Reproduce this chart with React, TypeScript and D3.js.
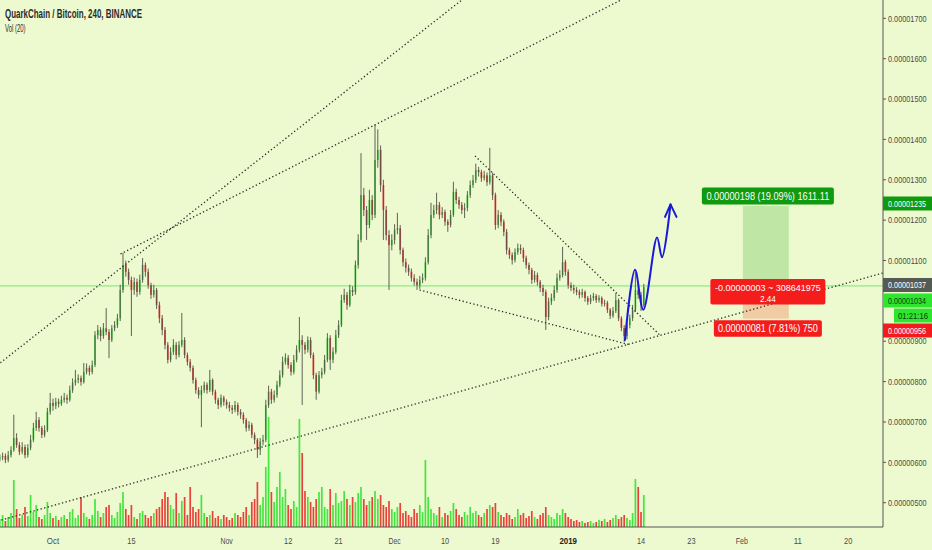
import React, { useLayoutEffect, useRef, useState } from "react";
import * as d3 from "d3";

const W = 932;
const H = 550;
const PLOT_RIGHT = 883;
const PLOT_BOTTOM = 527;
const DAY = 86400000;
const ORIGIN = Date.UTC(2018, 9, 1); // Oct 1 2018

// 12h candles starting Sep 21 2018 12:00 UTC
const candleStart = Date.UTC(2018, 8, 21, 12);
const candleStepHours = 12;
const firstOpen = 608;

// prices in satoshi (1e-8 BTC)
const closes = [
  612, 616, 606, 618, 631, 660, 643, 626, 638, 618, 636, 656, 685, 705, 685, 668, 680, 725, 747, 740,
  750, 745, 755, 760, 755, 779, 797, 804, 809, 799, 824, 834, 824, 841, 915, 928, 913, 932, 923, 903,
  932, 940, 957, 1027, 1089, 1072, 1052, 1027, 1047, 1022, 1052, 1089, 1072, 1039, 1015, 1027, 990, 957, 928, 891,
  854, 874, 891, 866, 891, 903, 866, 849, 834, 804, 779, 767, 779, 792, 779, 804, 775, 755, 742, 760,
  750, 742, 735, 730, 742, 725, 718, 705, 685, 693, 668, 656, 631, 651, 656, 742, 775, 755, 767, 792,
  816, 849, 859, 841, 824, 854, 879, 903, 891, 879, 903, 866, 816, 775, 816, 824, 854, 908, 854, 874,
  915, 940, 1002, 1015, 990, 1027, 1022, 1089, 1151, 1262, 1225, 1188, 1250, 1213, 1349, 1374, 1287, 1225, 1163, 1138,
  1151, 1176, 1180, 1126, 1096, 1082, 1072, 1057, 1047, 1039, 1052, 1057, 1096, 1163, 1213, 1225, 1238, 1213, 1220, 1196,
  1188, 1213, 1270, 1250, 1238, 1225, 1230, 1262, 1287, 1299, 1324, 1319, 1304, 1311, 1294, 1311, 1262, 1188, 1213, 1196,
  1171, 1126, 1114, 1101, 1121, 1131, 1126, 1106, 1089, 1077, 1052, 1064, 1047, 1032, 1022, 960, 998, 1007, 1027, 1057,
  1064, 1096, 1072, 1039, 1032, 1027, 1022, 1015, 1022, 1007, 998, 1007, 1012, 1002, 1007, 993, 995, 978, 963, 975,
  1002, 957, 933, 913, 940, 957, 978, 1027, 1015, 990, 1034,
];
const highs = [
  620, 624, 622, 628, 640, 718, 672, 650, 650, 644, 645, 668, 698, 725, 712, 690, 692, 735, 772, 758,
  760, 758, 765, 772, 768, 790, 808, 829, 818, 815, 846, 845, 840, 852, 925, 940, 935, 945, 982, 930,
  940, 950, 968, 1040, 1119, 1100, 1080, 1060, 1058, 1055, 1065, 1106, 1095, 1080, 1045, 1040, 1032, 998, 965, 935,
  898, 885, 905, 898, 900, 970, 910, 872, 856, 840, 810, 786, 790, 800, 798, 829, 808, 780, 760, 768,
  765, 756, 750, 742, 752, 748, 732, 724, 710, 702, 698, 674, 660, 660, 668, 755, 790, 782, 778, 802,
  828, 862, 870, 866, 848, 866, 890, 960, 915, 898, 912, 910, 872, 822, 826, 834, 866, 920, 915, 885,
  928, 952, 1015, 1030, 1022, 1040, 1036, 1100, 1165, 1366, 1280, 1235, 1275, 1262, 1436, 1425, 1385, 1300, 1235, 1175,
  1165, 1190, 1218, 1188, 1132, 1105, 1090, 1080, 1066, 1055, 1062, 1068, 1108, 1178, 1243, 1238, 1268, 1245, 1232, 1226,
  1202, 1225, 1295, 1278, 1258, 1245, 1242, 1272, 1298, 1312, 1340, 1332, 1325, 1322, 1318, 1379, 1318, 1268, 1225, 1220,
  1202, 1178, 1132, 1120, 1130, 1142, 1140, 1132, 1112, 1095, 1082, 1074, 1070, 1052, 1040, 1028, 1008, 1018, 1038, 1068,
  1076, 1134, 1102, 1078, 1046, 1040, 1034, 1028, 1030, 1026, 1012, 1015, 1020, 1017, 1014, 1011, 1003, 1000, 982, 985,
  1019, 1006, 962, 940, 948, 966, 990, 1071, 1045, 1022, 1042,
];
const lows = [
  602, 605, 598, 600, 612, 626, 636, 618, 620, 610, 612, 630, 650, 678, 676, 660, 662, 675, 718, 728,
  732, 736, 740, 748, 745, 750, 772, 790, 796, 790, 795, 818, 815, 818, 836, 905, 900, 906, 915, 858,
  898, 925, 933, 950, 1020, 1060, 1040, 913, 1015, 1010, 1015, 1045, 1060, 1030, 1005, 1008, 980, 945, 915, 880,
  845, 848, 866, 855, 860, 885, 858, 840, 825, 795, 770, 758, 687, 772, 770, 774, 766, 745, 732, 736,
  740, 733, 726, 720, 724, 716, 708, 696, 676, 678, 660, 645, 611, 618, 642, 650, 735, 745, 748, 760,
  786, 810, 842, 832, 815, 818, 848, 872, 742, 868, 872, 858, 806, 755, 770, 808, 818, 848, 829, 846,
  868, 908, 935, 995, 978, 985, 1012, 1015, 1080, 1145, 1210, 1151, 1180, 1200, 1205, 1330, 1270, 1151, 1150, 1027,
  1125, 1140, 1165, 1115, 1085, 1070, 1062, 1048, 1038, 1027, 1030, 1044, 1050, 1090, 1155, 1205, 1215, 1202, 1205, 1186,
  1171, 1182, 1208, 1240, 1228, 1215, 1205, 1222, 1255, 1280, 1292, 1308, 1295, 1298, 1285, 1288, 1250, 1176, 1180, 1185,
  1160, 1115, 1104, 1090, 1095, 1114, 1116, 1096, 1080, 1066, 1042, 1045, 1038, 1022, 1012, 928, 952, 990, 1000, 1020,
  1050, 1058, 1062, 1030, 1024, 1018, 1014, 1006, 1008, 998, 990, 992, 1000, 995, 996, 986, 986, 970, 955, 958,
  970, 950, 925, 898, 905, 932, 950, 972, 1005, 975, 985,
];
const volumes = [
  8, 12, 6, 10, 14, 47, 18, 9, 12, 20, 11, 32, 15, 22, 10, 8, 12, 25, 14, 9,
  11, 7, 10, 12, 8, 15, 18, 9, 12, 30, 14, 10, 8, 12, 28, 16, 10, 14, 20, 22,
  12, 9, 15, 24, 35, 18, 12, 22, 10, 8, 14, 16, 12, 9, 11, 14, 18, 20, 28, 35,
  30, 22, 18, 34, 14, 26, 30, 12, 40, 20, 15, 18, 32, 14, 10, 12, 16, 9, 11, 8,
  12, 10, 7, 9, 14, 12, 10, 15, 20, 12, 25, 28, 45, 22, 30, 60, 110, 35, 25, 40,
  55, 30, 38, 22, 18, 26, 20, 108, 74, 36, 30, 25, 20, 28, 35, 40, 20, 18, 38, 22,
  34, 24, 26, 36, 28, 22, 30, 25, 34, 40, 28, 22, 26, 30, 36, 28, 32, 22, 20, 26,
  18, 15, 20, 24, 14, 16, 12, 10, 18, 14, 22, 15, 67, 30, 18, 14, 12, 20, 10, 14,
  12, 16, 24, 18, 12, 10, 15, 12, 20, 14, 16, 12, 10, 14, 18, 22, 20, 24, 15, 12,
  10, 14, 12, 8, 10, 18, 12, 14, 9, 11, 16, 10, 8, 12, 14, 20, 12, 10, 8, 14,
  12, 18, 14, 10, 8, 6, 7, 5, 6, 4, 5, 6, 4, 5, 7, 6, 8, 5, 7, 9,
  12, 8, 10, 12, 9, 7, 14, 48, 40, 15, 32,
];

const priceTicks = [500, 600, 700, 800, 900, 1000, 1100, 1200, 1300, 1400, 1500, 1600, 1700];
const dateTicks: [number, string, boolean][] = [
  [Date.UTC(2018, 9, 1), "Oct", false],
  [Date.UTC(2018, 9, 15), "15", false],
  [Date.UTC(2018, 10, 1), "Nov", false],
  [Date.UTC(2018, 10, 12), "12", false],
  [Date.UTC(2018, 10, 21), "21", false],
  [Date.UTC(2018, 11, 1), "Dec", false],
  [Date.UTC(2018, 11, 10), "10", false],
  [Date.UTC(2018, 11, 19), "19", false],
  [Date.UTC(2019, 0, 1), "2019", true],
  [Date.UTC(2019, 0, 14), "14", false],
  [Date.UTC(2019, 0, 23), "23", false],
  [Date.UTC(2019, 1, 1), "Feb", false],
  [Date.UTC(2019, 1, 11), "11", false],
  [Date.UTC(2019, 1, 20), "20", false],
];

// trend lines: [dayFromOct1, price] anchors; extendLeft, extendRight
const trendLines: { a: [number, number]; b: [number, number]; left: boolean; right: boolean }[] = [
  { a: [-9.46, 846], b: [58.39, 1586], left: true, right: true },
  { a: [12.05, 1116], b: [57.5, 1436], left: false, right: true },
  { a: [-1.52, 487], b: [80, 804], left: true, right: true },
  { a: [65.46, 1027], b: [103.04, 891], left: false, right: false },
  { a: [75.36, 1359], b: [108.39, 915], left: false, right: false },
];

const projectionPath: [number, number][] = [
  [102.14, 903], [103.93, 1077], [105.41, 978], [107.86, 1157], [108.75, 1108], [110.27, 1239],
];
const projectionArrow: [number, number][] = [[109.29, 1208], [110.27, 1239], [111.34, 1208]];

const horizontalLevel = 1037;
const position = { startDay: 123.2, endDay: 131.4, entry: 1037, target: 1235, stop: 956 };
const positionLabels = {
  target: "0.00000198 (19.09%) 1611.11",
  middle1: "-0.00000003 ~ 308641975",
  middle2: "2.44",
  stop: "0.00000081 (7.81%) 750",
};

const axisBadges: { text: string; y: number; bg: string; fg: string; x: number; tl: number }[] = [
  { text: "0.00001235", y: 203.5, bg: "#0e990e", fg: "#ffffff", x: 883, tl: 38 },
  { text: "0.00001037", y: 285, bg: "#555a55", fg: "#ffffff", x: 883, tl: 38 },
  { text: "0.00001034", y: 300.5, bg: "#2ee62e", fg: "#0d3a0d", x: 883, tl: 38 },
  { text: "01:21:16", y: 315.5, bg: "#2ee62e", fg: "#0d3a0d", x: 894, tl: 30 },
  { text: "0.00000956", y: 330.5, bg: "#f21a1a", fg: "#ffffff", x: 883, tl: 38 },
];

const FONT = "'Liberation Sans', Arial, sans-serif";
const BG = "#edfacf";

type FitProps = {
  x: number;
  y: number;
  width: number;
  anchor?: "start" | "middle" | "end";
  fontSize: number;
  fill: string;
  fontWeight?: number;
  children: string;
};

function FitText({ x, y, width, anchor = "start", fontSize, fill, fontWeight = 400, children }: FitProps) {
  const ref = useRef<SVGTextElement>(null);
  const [sx, setSx] = useState(0.8);
  useLayoutEffect(() => {
    if (ref.current) {
      const w = ref.current.getComputedTextLength();
      if (w > 0) setSx(width / w);
    }
  }, [width, children, fontSize]);
  return (
    <text
      ref={ref}
      transform={`translate(${x},${y}) scale(${sx},1)`}
      textAnchor={anchor}
      fontSize={fontSize}
      fill={fill}
      fontWeight={fontWeight}
    >
      {children}
    </text>
  );
}

export default function App() {
  useLayoutEffect(() => {
    document.body.style.margin = "0";
    document.body.style.background = BG;
  }, []);

  const x = d3
    .scaleUtc()
    .domain([Date.UTC(2018, 9, 1), Date.UTC(2019, 1, 20)])
    .range([53, 848.2]);
  const y = d3.scaleLinear().domain([500, 1700]).range([502.7, 18.3]);
  const yVol = d3.scaleLinear().domain([0, 120]).range([PLOT_BOTTOM, PLOT_BOTTOM - 120]);
  const dayX = (d: number) => x(ORIGIN + d * DAY);

  const candles = closes.map((c, i) => {
    const t = candleStart + i * candleStepHours * 3600000;
    const o = i === 0 ? firstOpen : closes[i - 1];
    return { t, o, c, h: highs[i], l: lows[i], v: volumes[i], up: c >= o };
  });
  const bw = 1.7;

  const lineEls = trendLines.map((ln, k) => {
    const x1 = dayX(ln.a[0]);
    const y1 = y(ln.a[1]);
    const x2 = dayX(ln.b[0]);
    const y2 = y(ln.b[1]);
    const s = (y2 - y1) / (x2 - x1);
    const xa = ln.left ? -20 : x1;
    const xb = ln.right ? PLOT_RIGHT + 20 : x2;
    return (
      <line
        key={k}
        x1={xa}
        y1={y1 + s * (xa - x1)}
        x2={xb}
        y2={y1 + s * (xb - x1)}
        stroke="#2a2a2a"
        strokeWidth={1.3}
        strokeDasharray="1.3 2.4"
      />
    );
  });

  const projLine = d3
    .line<[number, number]>()
    .x((d) => dayX(d[0]))
    .y((d) => y(d[1]))
    .curve(d3.curveCatmullRom.alpha(0.5));
  const arrowLine = d3
    .line<[number, number]>()
    .x((d) => dayX(d[0]))
    .y((d) => y(d[1]));

  const px0 = dayX(position.startDay);
  const px1 = dayX(position.endDay);
  const pcx = (px0 + px1) / 2 + 2;
  const yT = y(position.target);
  const yE = y(position.entry);
  const yS = y(position.stop);

  return (
    <div style={{ position: "absolute", left: 0, top: 0, width: W, height: H, background: BG }}>
      <svg width={W} height={H} style={{ display: "block", fontFamily: FONT }}>
        <defs>
          <clipPath id="plot">
            <rect x={0} y={0} width={PLOT_RIGHT} height={PLOT_BOTTOM} />
          </clipPath>
        </defs>
        <rect x={0} y={0} width={W} height={H} fill={BG} />

        <g clipPath="url(#plot)">
          {/* volume */}
          {candles.map((d, i) => (
            <rect
              key={"v" + i}
              x={x(d.t) - bw / 2}
              y={yVol(d.v)}
              width={bw}
              height={PLOT_BOTTOM - yVol(d.v)}
              fill={d.up ? "#19e019" : "#e81414"}
              opacity={0.8}
            />
          ))}

          {/* horizontal level */}
          <line x1={0} x2={PLOT_RIGHT} y1={y(horizontalLevel)} y2={y(horizontalLevel)} stroke="#74e874" strokeWidth={1} />

          {/* position tool */}
          <rect x={px0} y={yT} width={px1 - px0} height={yE - yT} fill="#bfe6a4" />
          <rect x={px0} y={yE} width={px1 - px0} height={yS - yE} fill="#f0cba4" />

          {/* candles */}
          {candles.map((d, i) => {
            const cx = x(d.t);
            const top = y(Math.max(d.o, d.c));
            const bot = y(Math.min(d.o, d.c));
            return (
              <g key={"c" + i}>
                <rect
                  x={cx - bw / 2}
                  y={top}
                  width={bw}
                  height={Math.max(1, bot - top)}
                  fill={d.up ? "#3ccf3c" : "#e83a3a"}
                />
                <line x1={cx} x2={cx} y1={y(d.h)} y2={y(d.l)} stroke="#4f5046" strokeWidth={0.9} />
              </g>
            );
          })}

          {/* trend lines */}
          {lineEls}

          {/* projection */}
          <path d={projLine(projectionPath) || ""} fill="none" stroke="#1a1ad6" strokeWidth={2} strokeLinecap="round" strokeLinejoin="round" />
          <path d={arrowLine(projectionArrow) || ""} fill="none" stroke="#1a1ad6" strokeWidth={2} strokeLinecap="round" strokeLinejoin="round" />
        </g>

        {/* position labels */}
        <rect x={pcx - 66} y={yT - 18.5} width={132} height={17} rx={2} fill="#0f9a0f" />
        <FitText x={pcx} y={yT - 6.3} anchor="middle" fontSize={10.5} fill="#ffffff" width={123}>
          {positionLabels.target}
        </FitText>
        <rect x={pcx - 57.5} y={yE - 7} width={115} height={25.5} rx={2} fill="#f51c1c" />
        <FitText x={pcx} y={yE + 4.6} anchor="middle" fontSize={9.5} fill="#ffffff" width={106}>
          {positionLabels.middle1}
        </FitText>
        <FitText x={pcx} y={yE + 15.6} anchor="middle" fontSize={9.5} fill="#ffffff" width={16}>
          {positionLabels.middle2}
        </FitText>
        <rect x={pcx - 54} y={yS + 1.5} width={108} height={16.5} rx={2} fill="#f51c1c" />
        <FitText x={pcx} y={yS + 13.3} anchor="middle" fontSize={10.5} fill="#ffffff" width={100}>
          {positionLabels.stop}
        </FitText>

        {/* axes */}
        <line x1={PLOT_RIGHT} x2={PLOT_RIGHT} y1={0} y2={PLOT_BOTTOM} stroke="#555" strokeWidth={1} />
        <line x1={0} x2={PLOT_RIGHT} y1={PLOT_BOTTOM} y2={PLOT_BOTTOM} stroke="#555" strokeWidth={1} />
        {priceTicks.map((p) => (
          <g key={"p" + p}>
            <line x1={PLOT_RIGHT} x2={PLOT_RIGHT + 3} y1={y(p)} y2={y(p)} stroke="#555" />
            <FitText x={888} y={y(p) + 3.2} fontSize={9} fill="#4a4a4a" width={38.5}>
              {(p * 1e-8).toFixed(8)}
            </FitText>
          </g>
        ))}
        {axisBadges.map((b) => (
          <g key={b.text}>
            <rect x={b.x} y={b.y - 7} width={W - b.x} height={14} fill={b.bg} />
            <FitText x={b.x === PLOT_RIGHT ? 888 : b.x + 4} y={b.y + 3.3} fontSize={9} fill={b.fg} width={b.tl}>
              {b.text}
            </FitText>
          </g>
        ))}
        {dateTicks.map(([t, label, bold]) => (
          <FitText
            key={label + t}
            x={x(t)}
            y={544}
            anchor="middle"
            fontSize={9.5}
            fontWeight={bold ? 700 : 400}
            fill={bold ? "#222" : "#4a4a4a"}
            width={label.length * (bold ? 4.4 : 4.1)}
          >
            {label}
          </FitText>
        ))}

        {/* header */}
        <FitText x={5} y={18} fontSize={12} fontWeight={700} fill="#2b2b2b" width={137}>
          QuarkChain / Bitcoin, 240, BINANCE
        </FitText>
        <FitText x={5} y={31.5} fontSize={11} fill="#2b2b2b" width={20.5}>
          Vol (20)
        </FitText>
      </svg>
    </div>
  );
}
